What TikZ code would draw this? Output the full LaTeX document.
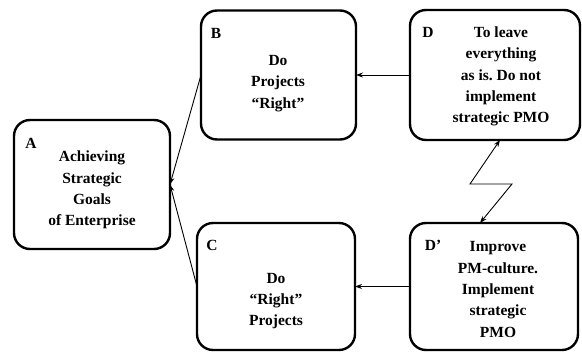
\documentclass[tikz,border=0pt]{standalone}
\usepackage{fontspec}
\setmainfont{Liberation Serif}
\usetikzlibrary{arrows.meta}
\frenchspacing
\begin{document}
\begin{tikzpicture}[x=1pt,y=-1pt,
  box/.style={draw, rectangle, rounded corners=16pt, line width=2.4pt, inner sep=0pt, outer sep=0pt},
  txt/.style={font=\fontsize{15.5}{21.3}\selectfont\bfseries, align=center, inner sep=0pt},
  lbl/.style={font=\fontsize{15.5}{17}\selectfont\bfseries, inner sep=0pt},
  conn/.style={line width=0.9pt, -{Stealth[length=7pt,width=5pt]}},
  conn2/.style={line width=0.9pt, {Stealth[length=7pt,width=5pt]}-{Stealth[length=7pt,width=5pt]}}]
\useasboundingbox (0,0) rectangle (582,352);
% boxes
\node[box, minimum width=156pt, minimum height=129pt] (A) at (92,184.5) {};
\node[box, minimum width=155pt, minimum height=129pt] (B) at (278.5,75) {};
\node[box, minimum width=158pt, minimum height=127pt] (C) at (276,286.5) {};
\node[box, minimum width=170pt, minimum height=130pt] (D) at (495,75) {};
\node[box, minimum width=168pt, minimum height=127pt] (Dp) at (494,286.5) {};
% letters
\node[lbl] (lA) at (31,143) {A};
\node[lbl] (lB) at (216,33) {B};
\node[lbl] (lC) at (212,245) {C};
\node[lbl] (lD) at (428,32) {D};
\node[lbl] (lDp) at (433,245) {D’};
% texts
\node[txt] (tA) at (92,190) {Achieving\\Strategic\\Goals\\of Enterprise};
\node[txt] (tB) at (278,83.5) {Do\\Projects\\“Right”};
\node[txt] (tC) at (276,301) {Do\\“Right”\\Projects};
\node[txt] (tD) at (501,76.5) {To leave\\everything\\as is. Do not\\implement\\strategic PMO};
\node[txt] (tDp) at (498,289.5) {Improve\\PM-culture.\\Implement\\strategic\\PMO};
% connectors
\draw[conn] (D.west) -- (B.east);
\draw[conn] (Dp.west) -- (C.east);
\draw[conn] (B.west) -- (A.east);
\draw[conn] (C.west) -- (A.east);
\coordinate (zt) at (500,0);
\coordinate (z1) at (470,184);
\coordinate (z2) at (512,184);
\coordinate (zb) at (480,0);
\draw[conn2] (D.south -| zt) -- (z1) -- (z2) -- (Dp.north -| zb);
\end{tikzpicture}
\end{document}
